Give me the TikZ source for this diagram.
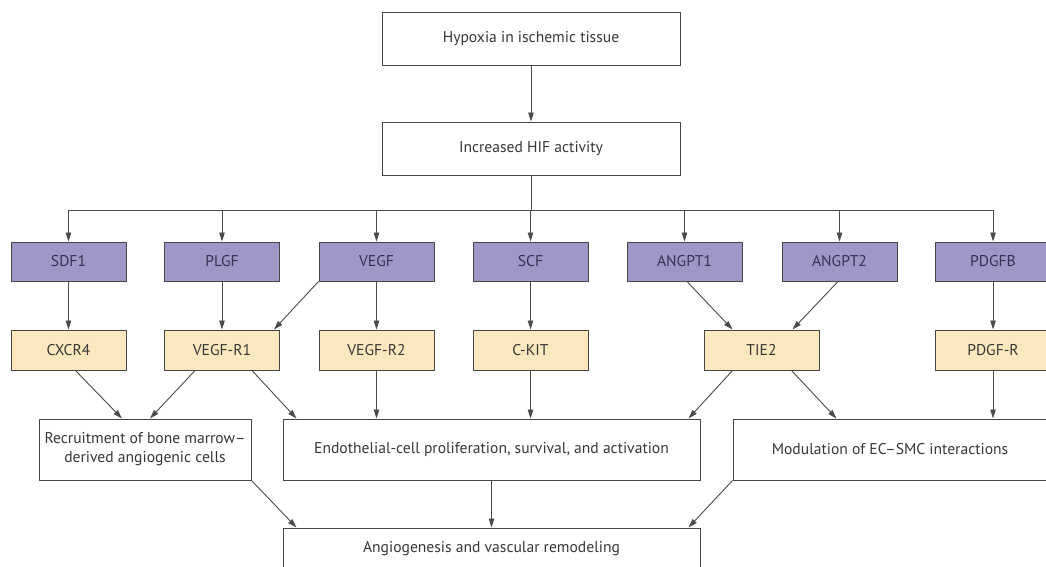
\documentclass[tikz,border=0pt]{standalone}
\usepackage{fontspec}
\setmainfont{PT Sans}
\usetikzlibrary{arrows.meta,positioning}
\definecolor{purp}{RGB}{161,150,200}
\definecolor{yell}{RGB}{252,232,190}
\definecolor{edge}{RGB}{70,70,70}
\definecolor{txt}{RGB}{55,55,55}
\definecolor{ptxt}{RGB}{55,50,85}
\definecolor{wire}{RGB}{75,75,75}
\begin{document}
\begin{tikzpicture}[x=1pt,y=-1pt,
  box/.style={draw=edge,line width=1pt,rectangle,inner sep=0pt,text=txt,font=\fontsize{15.6}{19}\selectfont,align=center},
  wbox/.style={box,fill=white},
  pbox/.style={box,fill=purp,minimum width=115pt,minimum height=39pt,text=ptxt},
  ybox/.style={box,fill=yell,minimum width=115pt,minimum height=40pt},
  arr/.style={draw=wire,line width=0.9pt,-{Triangle[length=9pt,width=5.5pt]}},
  ln/.style={draw=wire,line width=0.9pt}]
\useasboundingbox (0,0) rectangle (1046,566);
\fill[white] (0,0) rectangle (1046,566);

\node[wbox,minimum width=298pt,minimum height=53pt] (hyp) at (531,38.5) {Hypoxia in ischemic tissue};
\node[wbox,minimum width=298pt,minimum height=53pt] (hif) at (531,148.5) {Increased HIF activity};

\node[pbox] (sdf) at (68.5,261.5) {SDF1};
\node[pbox] (plgf) at (222,261.5) {PLGF};
\node[pbox] (vegf) at (376.5,261.5) {VEGF};
\node[pbox] (scf) at (530.5,261.5) {SCF};
\node[pbox] (ang1) at (684.5,261.5) {ANGPT1};
\node[pbox] (ang2) at (839.5,261.5) {ANGPT2};
\node[pbox] (pdgfb) at (993,261.5) {PDGFB};

\node[ybox] (cxcr) at (68.5,350) {CXCR4};
\node[ybox] (vr1) at (222,350) {VEGF-R1};
\node[ybox] (vr2) at (376.5,350) {VEGF-R2};
\node[ybox] (ckit) at (530.5,350) {C-KIT};
\node[ybox] (tie) at (761.5,350) {TIE2};
\node[ybox] (pdgfr) at (993,350) {PDGF-R};

\node[wbox,minimum width=212pt,minimum height=61pt] (rec) at (145,449.5) {Recruitment of bone marrow–\\derived angiogenic cells};
\node[wbox,minimum width=417pt,minimum height=61pt] (endo) at (491.5,449.5) {Endothelial-cell proliferation, survival, and activation};
\node[wbox,minimum width=314pt,minimum height=61pt] (mod) at (890,449.5) {Modulation of EC–SMC interactions};
\node[wbox,minimum width=417pt,minimum height=61pt] (ang) at (491.5,558.5) {};
\node[text=txt,font=\fontsize{15.6}{19}\selectfont] (angt) at (491.5,549) {Angiogenesis and vascular remodeling};

\coordinate (bus) at (0,210);
\draw[arr] (hyp) -- (hif);
\draw[ln] (hif.south) -- (hif.south |- bus);
\draw[ln] (sdf.north |- bus) -- (pdgfb.north |- bus);
\foreach \n in {sdf,plgf,vegf,scf,ang1,ang2,pdgfb}
  \draw[arr] (\n.north |- bus) -- (\n.north);

\draw[arr] (sdf) -- (cxcr);
\draw[arr] (plgf) -- (vr1);
\draw[arr] (vegf) -- (vr2);
\draw[arr] (scf) -- (ckit);
\draw[arr] (pdgfb) -- (pdgfr);
\draw[arr] (vegf.south west) -- ([xshift=-6pt]vr1.north east);
\draw[arr] ([xshift=2.5pt]ang1.south) -- ([xshift=-29pt]tie.north);
\draw[arr] ([xshift=-1.5pt]ang2.south) -- ([xshift=31pt]tie.north);

\draw[arr] ([xshift=7pt]cxcr.south) -- ([xshift=-23pt]rec.north);
\draw[arr] ([xshift=-27pt]vr1.south) -- ([xshift=5pt]rec.north);
\draw[arr] ([xshift=30pt]vr1.south) -- ([xshift=14pt]endo.north west);
\draw[arr] (vr2.south) -- (vr2.south |- endo.north);
\draw[arr] (ckit.south) -- (ckit.south |- endo.north);
\draw[arr] ([xshift=-29pt]tie.south) -- ([xshift=-12pt]endo.north east);
\draw[arr] ([xshift=30pt]tie.south) -- ([xshift=104pt]mod.north west);
\draw[arr] (pdgfr.south) -- (pdgfr.south |- mod.north);

\draw[arr] (rec.south east) -- ([xshift=14pt]ang.north west);
\draw[arr] (endo.south) -- (ang.north);
\draw[arr] (mod.south west) -- ([xshift=-12pt]ang.north east);
\end{tikzpicture}
\end{document}
